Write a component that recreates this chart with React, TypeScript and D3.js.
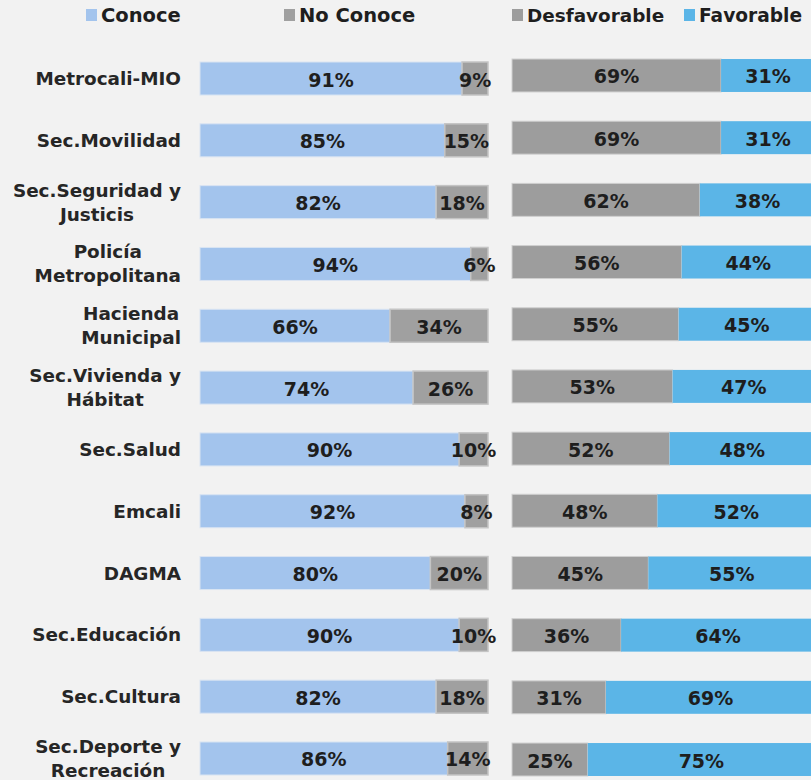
import React from "react";
import * as d3 from "d3";

const categories = [
  ["Metrocali-MIO"],
  ["Sec.Movilidad"],
  ["Sec.Seguridad y", "Justicis"],
  ["Policía", "Metropolitana"],
  ["Hacienda", "Municipal"],
  ["Sec.Vivienda y", "Hábitat"],
  ["Sec.Salud"],
  ["Emcali"],
  ["DAGMA"],
  ["Sec.Educación"],
  ["Sec.Cultura"],
  ["Sec.Deporte y", "Recreación"],
];
const conoce = [91, 85, 82, 94, 66, 74, 90, 92, 80, 90, 82, 86];
const noConoce = [9, 15, 18, 6, 34, 26, 10, 8, 20, 10, 18, 14];
const desfavorable = [69, 69, 62, 56, 55, 53, 52, 48, 45, 36, 31, 25];
const favorable = [31, 31, 38, 44, 45, 47, 48, 52, 55, 64, 69, 75];
const legendLabels = ["Conoce", "No Conoce", "Desfavorable", "Favorable"];

const W = 811;
const H = 780;
const BG = "#f2f2f2";
const C_CONOCE = "#a3c4ed";
const C_NO = "#a0a0a0";
const C_DES = "#9d9d9d";
const C_FAV = "#5bb5e7";
const FONT = "'DejaVu Sans', sans-serif";
const LABEL_SIZE = 18.4;

function measure(text: string, font: string) {
  if (typeof document === "undefined") return text.length * 10;
  const c = document.createElement("canvas");
  const ctx = c.getContext("2d")!;
  ctx.font = font;
  return ctx.measureText(text).width;
}

export default function App() {
  const idx = categories.map((_, i) => String(i));
  const yL = d3.scaleBand().domain(idx).range([47.6, 789.4]).paddingInner(0.466).paddingOuter(0.233);
  const yR = d3.scaleBand().domain(idx).range([44.4, 790.6]).paddingInner(0.47).paddingOuter(0.235);
  const xL = d3.scaleLinear().domain([0, 100]).range([200, 488]);
  const xR = d3.scaleLinear().domain([0, 100]).range([512, 815]);

  const labelFont = `bold ${LABEL_SIZE}px ${FONT}`;
  const labelRight = 181;

  const pctStyle: React.CSSProperties = {
    fontFamily: FONT,
    fontWeight: "bold",
    fontSize: 19,
    fill: "#1e1e1e",
  };

  const legend = [
    { x: 86, color: C_CONOCE, label: legendLabels[0], size: 19.5 },
    { x: 284, color: C_NO, label: legendLabels[1], size: 19.5 },
    { x: 512, color: C_DES, label: legendLabels[2], size: 18.4 },
    { x: 684, color: C_FAV, label: legendLabels[3], size: 18.6 },
  ];

  return (
    <svg width={W} height={H} style={{ position: "absolute", left: 0, top: 0, background: BG }}>
      <rect x={0} y={0} width={W} height={H} fill={BG} />
      {legend.map((l, i) => (
        <g key={i}>
          <rect x={l.x} y={9} width={11} height={12} fill={l.color} />
          <text
            x={l.x + 15}
            y={15}
            dominantBaseline="central"
            style={{ fontFamily: FONT, fontWeight: "bold", fontSize: l.size, fill: "#1e1e1e" }}
          >
            {l.label}
          </text>
        </g>
      ))}
      {categories.map((lines, i) => {
        const yl = yL(String(i))!;
        const bh = yL.bandwidth();
        const cy = yl + bh / 2;
        const maxW = Math.max(...lines.map((t) => measure(t, labelFont)));
        const cx = labelRight - maxW / 2;
        const yr = yR(String(i))!;
        const bhr = yR.bandwidth();
        const cyr = yr + bhr / 2;
        return (
          <g key={i}>
            {lines.map((t, j) => (
              <text
                key={j}
                x={cx}
                y={cy + (j - (lines.length - 1) / 2) * 24}
                textAnchor="middle"
                dominantBaseline="central"
                style={{ fontFamily: FONT, fontWeight: "bold", fontSize: LABEL_SIZE, fill: "#262626" }}
              >
                {t}
              </text>
            ))}
            <rect x={xL(0)} y={yl} width={xL(conoce[i]) - xL(0)} height={bh} fill={C_CONOCE} stroke="#d9e4f2" strokeWidth={1} />
            <rect x={xL(conoce[i])} y={yl} width={xL(100) - xL(conoce[i])} height={bh} fill={C_NO} stroke="#c4c4c4" strokeWidth={1.5} />
            <text x={(xL(0) + xL(conoce[i])) / 2} y={cy + 1} textAnchor="middle" dominantBaseline="central" style={pctStyle}>
              {conoce[i]}%
            </text>
            <text x={(xL(conoce[i]) + xL(100)) / 2} y={cy + 1} textAnchor="middle" dominantBaseline="central" style={pctStyle}>
              {noConoce[i]}%
            </text>
            <rect x={xR(0)} y={yr} width={xR(desfavorable[i]) - xR(0)} height={bhr} fill={C_DES} stroke="#d0d0d0" strokeWidth={1} />
            <rect x={xR(desfavorable[i])} y={yr} width={xR(100) - xR(desfavorable[i])} height={bhr} fill={C_FAV} />
            <text x={(xR(0) + xR(desfavorable[i])) / 2} y={cyr + 1} textAnchor="middle" dominantBaseline="central" style={pctStyle}>
              {desfavorable[i]}%
            </text>
            <text x={(xR(desfavorable[i]) + xR(100)) / 2} y={cyr + 1} textAnchor="middle" dominantBaseline="central" style={pctStyle}>
              {favorable[i]}%
            </text>
          </g>
        );
      })}
    </svg>
  );
}
